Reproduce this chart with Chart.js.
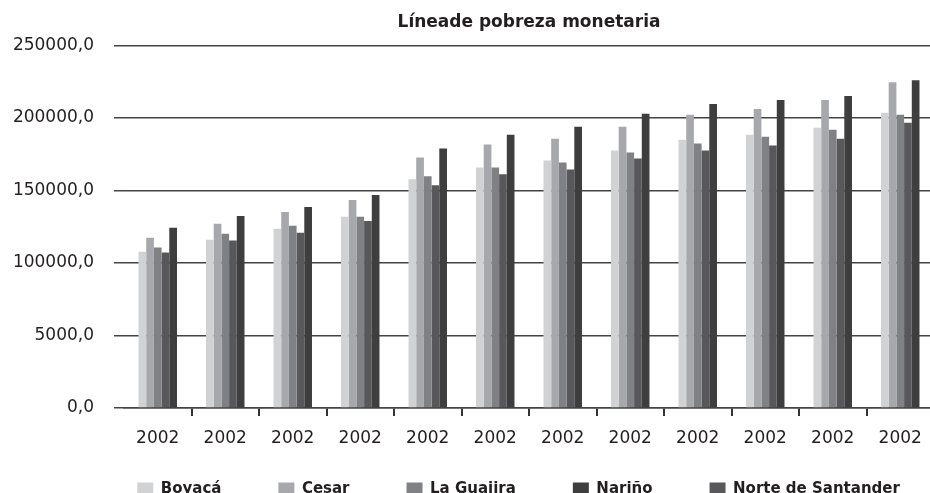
<!DOCTYPE html>
<html>
<head>
<meta charset="utf-8">
<script src="https://cdn.jsdelivr.net/npm/chart.js"></script>
<style>
    body { margin: 0; background: #fff; overflow: hidden; }
    #wrap { width: 936px; height: 493px; }
</style>
</head>
<body>
<div id="wrap"><canvas id="povertyChart"></canvas></div>
<script>
// Data
const years = ['2002', '2002', '2002', '2002', '2002', '2002', '2002', '2002', '2002', '2002', '2002', '2002'];
const yTickLabels = ['0,0', '5000,0', '100000,0', '150000,0', '200000,0', '250000,0'];

const boyaca = [107800, 116000, 123600, 131800, 157700, 165900, 170700, 177500, 185000, 188400, 193200, 203500];
const cesar = [117400, 127000, 135200, 143400, 172700, 181600, 185700, 193900, 202100, 206200, 212300, 224600];
const laGuajira = [110600, 120100, 125600, 131800, 159800, 165900, 169300, 176100, 182300, 187100, 191900, 202100];
const norteSantander = [107200, 115400, 120800, 129000, 153600, 161100, 164500, 172000, 177500, 180900, 185700, 196600];
const narino = [124200, 132400, 138600, 146800, 178900, 188400, 193900, 202800, 209600, 212300, 215100, 226000];

// Legend order differs from bar order
const legendOrder = ['Boyacá', 'Cesar', 'La Guajira', 'Nariño', 'Norte de Santander'];

const textColor = '#231f20';
const lineColor = '#444444';

const datasets = [
    { label: 'Boyacá', data: boyaca, backgroundColor: '#d1d2d4' },
    { label: 'Cesar', data: cesar, backgroundColor: '#a7a8ab' },
    { label: 'La Guajira', data: laGuajira, backgroundColor: '#808184' },
    { label: 'Norte de Santander', data: norteSantander, backgroundColor: '#58585a' },
    { label: 'Nariño', data: narino, backgroundColor: '#3e3e3f' }
];

new Chart(document.getElementById('povertyChart'), {
    type: 'bar',
    data: { labels: years, datasets: datasets },
    options: {
        responsive: true,
        maintainAspectRatio: false,
        animation: false,
        layout: { padding: { left: 0, right: 2, top: 0, bottom: 0 } },
        datasets: {
            bar: { categoryPercentage: 0.57, barPercentage: 1, borderWidth: 0 }
        },
        plugins: {
            tooltip: { enabled: false },
            title: {
                display: true,
                fullSize: false,
                text: 'Líneade pobreza monetaria',
                color: textColor,
                font: { family: 'DejaVu Sans', size: 17, weight: 'bold' },
                padding: { top: 12, bottom: 13 }
            },
            legend: {
                position: 'bottom',
                fullSize: false,
                maxHeight: 21,
                labels: {
                    color: textColor,
                    font: { family: 'DejaVu Sans', size: 15, weight: 'bold' },
                    boxWidth: 16,
                    boxHeight: 14,
                    padding: 10,
                    sort: (a, b) => legendOrder.indexOf(a.text.trim()) - legendOrder.indexOf(b.text.trim()),
                    generateLabels: (chart) => {
                        const items = Chart.defaults.plugins.legend.labels.generateLabels(chart);
                        items.forEach(item => {
                            item.lineWidth = 0;
                            // trailing spaces widen the gaps between entries
                            const last = item.text === legendOrder[legendOrder.length - 1];
                            item.text = item.text + (last ? '    ' : '         ');
                        });
                        return items;
                    }
                }
            }
        },
        scales: {
            x: {
                afterFit: (scale) => { scale.height = 64; },
                grid: {
                    display: true,
                    drawOnChartArea: false,
                    tickLength: 8,
                    lineWidth: 2,
                    color: (ctx) => ctx.index === 0 ? 'rgba(0,0,0,0)' : '#333333'
                },
                border: { display: true, color: lineColor, width: 1.5 },
                ticks: {
                    color: textColor,
                    padding: 12,
                    maxRotation: 0,
                    autoSkip: false,
                    font: { family: 'DejaVu Sans', size: 17 }
                }
            },
            y: {
                min: 0,
                max: 250000,
                afterFit: (scale) => { scale.width = 124; },
                grid: { color: lineColor, lineWidth: 1.5, tickLength: 10 },
                border: { display: false },
                ticks: {
                    stepSize: 50000,
                    padding: 20,
                    color: textColor,
                    font: { family: 'DejaVu Sans', size: 17 },
                    callback: (value) => yTickLabels[Math.round(value / 50000)]
                }
            }
        }
    }
});
</script>
</body>
</html>
